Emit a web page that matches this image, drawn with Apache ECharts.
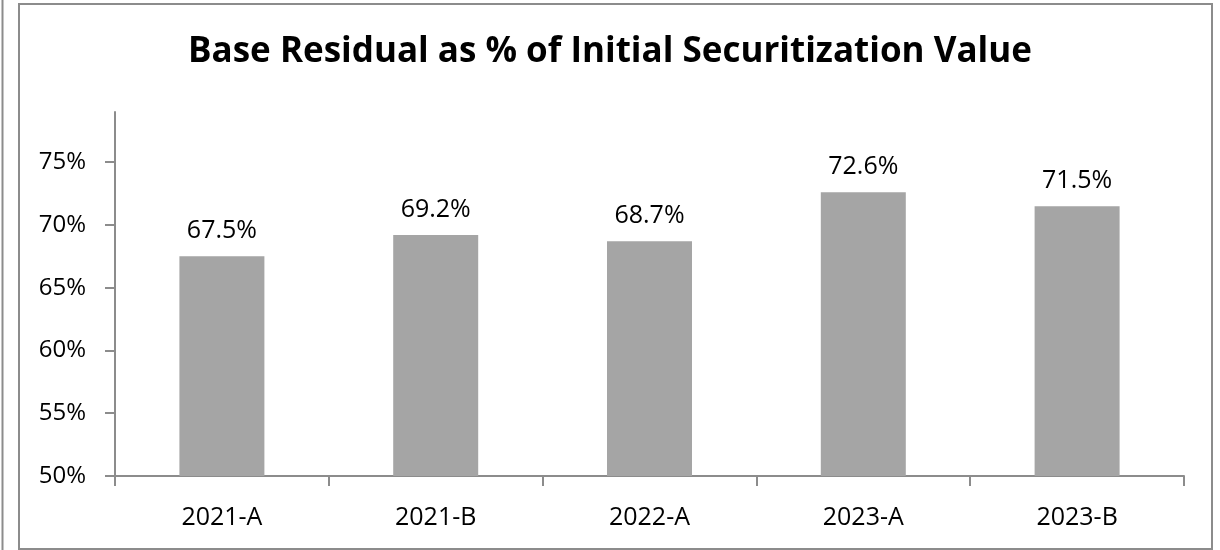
<!DOCTYPE html>
<html>
<head>
<meta charset="utf-8">
<script src="https://cdn.jsdelivr.net/npm/echarts@6/dist/echarts.min.js"></script>
<style>
html,body{margin:0;padding:0;background:#fff;}
#chart{width:1220px;height:550px;}
</style>
</head>
<body>
<div id="chart"></div>
<script>
const categories = ['2021-A', '2021-B', '2022-A', '2023-A', '2023-B'];
const residualPct = [67.5, 69.2, 68.7, 72.6, 71.5];
const yTicks = [50, 55, 60, 65, 70, 75];
const titleText = 'Base Residual as % of Initial Securitization Value';

const chart = echarts.init(document.getElementById('chart'), null, {renderer: 'canvas'});
const axisGray = '#8c8c8c';
const font = '"Open Sans", "Noto Sans", sans-serif';

chart.setOption({
  animation: false,
  backgroundColor: '#fff',
  title: {
    text: titleText,
    left: 'center',
    top: 30,
    textStyle: {fontFamily: '"Open Sans", sans-serif', fontWeight: 'bold', fontSize: 35, color: '#000'}
  },
  graphic: [
    {type: 'rect', shape: {x: 19, y: 4, width: 1193, height: 545}, style: {fill: 'none', stroke: axisGray, lineWidth: 2}, silent: true},
    {type: 'line', shape: {x1: 2.5, y1: 0, x2: 2.5, y2: 550}, style: {stroke: axisGray, lineWidth: 2}, silent: true}
  ],
  grid: {left: 115, right: 36, top: 112, bottom: 74, containLabel: false},
  xAxis: {
    type: 'category',
    data: categories,
    axisLine: {lineStyle: {color: axisGray, width: 2}},
    axisTick: {show: true, length: 10, lineStyle: {color: axisGray, width: 2}},
    axisLabel: {margin: 29, fontSize: 25, color: '#000', fontFamily: font}
  },
  yAxis: {
    type: 'value',
    min: 50,
    max: 79,
    interval: 5,
    splitLine: {show: false},
    axisLine: {show: true, lineStyle: {color: axisGray, width: 2}},
    axisTick: {show: true, length: 10, customValues: yTicks, lineStyle: {color: axisGray, width: 2}},
    axisLabel: {margin: 29, fontSize: 24, color: '#000', fontFamily: font, customValues: yTicks, formatter: '{value}%'}
  },
  series: [{
    type: 'bar',
    data: residualPct,
    barWidth: 85,
    itemStyle: {color: '#a5a5a5'},
    label: {
      show: true,
      position: 'top',
      distance: 13,
      fontSize: 25,
      color: '#000',
      fontFamily: font,
      formatter: p => p.value.toFixed(1) + '%'
    }
  }]
});
</script>
</body>
</html>
